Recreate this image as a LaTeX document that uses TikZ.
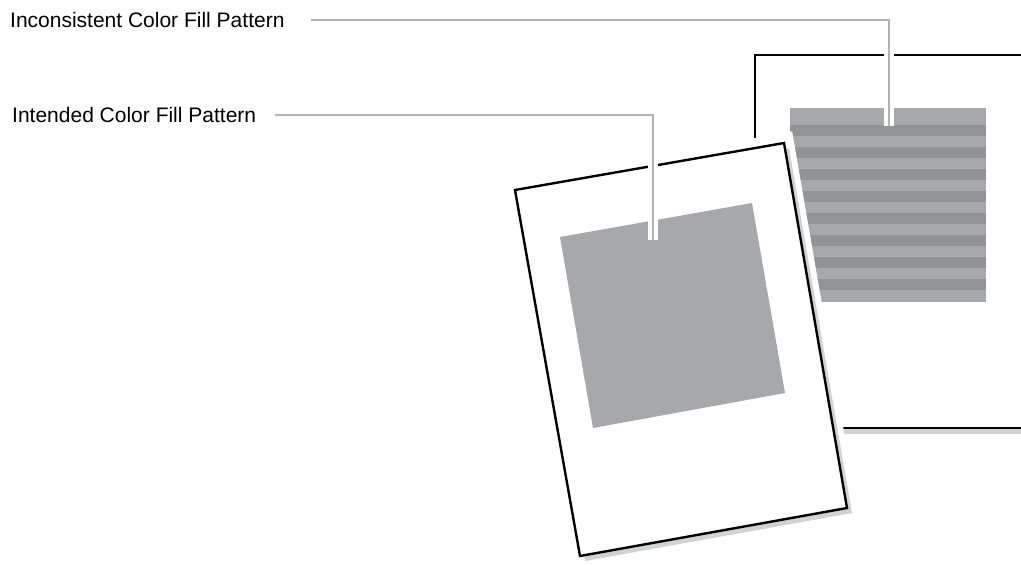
\documentclass[tikz,border=0pt]{standalone}
\usepackage{fontspec}
\setmainfont{Liberation Sans}
\begin{document}
\begin{tikzpicture}[x=1pt, y=-1pt, font=\fontsize{21}{25}\selectfont]
    % --- Estilos ---
    \tikzset{
        pageline/.style={draw=black, line width=2.4pt, fill=white},
        halo/.style={draw=white, line width=10pt},
        leader/.style={draw=leadergray, line width=2.6pt},
        calltext/.style={anchor=west, inner sep=0pt}
    }
    \definecolor{fillgray}{HTML}{A7A8AB}
    \definecolor{stripegray}{HTML}{929397}
    \definecolor{shadowgray}{HTML}{D1D2D4}
    \definecolor{leadergray}{HTML}{B1B2B5}

    \useasboundingbox (0,0) rectangle (1021,565);
    \clip (0,0) rectangle (1021,565);

    % --- Hoja de fondo (patrón inconsistente) ---
    \fill[shadowgray] (760,60) rectangle (1035,434);
    \draw[pageline] (755,55) rectangle (1030,428);
    \fill[fillgray] (790,108) rectangle (986,302);
    \foreach \i in {0,...,7} {
        \fill[stripegray] (790,{125+22*\i}) rectangle (986,{136+22*\i});
    }

    % --- Hoja frontal (patrón deseado) ---
    \coordinate (pA) at (515,190);
    \coordinate (pB) at (784,143);
    \coordinate (pC) at (847,508);
    \coordinate (pD) at (580,556);
    \draw[white, line width=20pt, fill=white] (pA) -- (pB) -- (pC) -- (pD) -- cycle;
    \fill[shadowgray] ([shift={(5,5)}]pA) -- ([shift={(5,5)}]pB)
        -- ([shift={(5,5)}]pC) -- ([shift={(5,5)}]pD) -- cycle;
    \draw[pageline] (pA) -- (pB) -- (pC) -- (pD) -- cycle;
    \fill[fillgray] (560,237) -- (752,203) -- (785,393) -- (593,428) -- cycle;

    % --- Etiquetas y líneas guía ---
    \node[calltext] (inconsistent) at (10,20) {Inconsistent Color Fill Pattern};
    \node[calltext] (intended) at (12,115) {Intended Color Fill Pattern};
    \coordinate (inconsistentTip) at (889,126);
    \coordinate (intendedTip) at (653,240);
    \draw[halo] ([xshift=26pt]inconsistent.east) -| (inconsistentTip);
    \draw[leader] ([xshift=26pt]inconsistent.east) -| (inconsistentTip);
    \draw[halo] ([xshift=19pt]intended.east) -| (intendedTip);
    \draw[leader] ([xshift=19pt]intended.east) -| (intendedTip);
\end{tikzpicture}
\end{document}
